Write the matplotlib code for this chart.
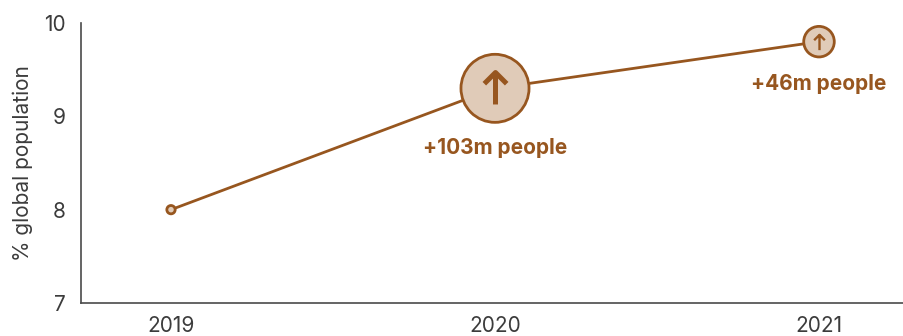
import matplotlib
matplotlib.use('Agg')
import matplotlib.pyplot as plt
from matplotlib.path import Path

plt.rcParams['font.family'] = ['Inter', 'DejaVu Sans']

years = [2019, 2020, 2021]
share = [8.0, 9.3, 9.8]
# marker diameters in points
bubble_sizes = [6, 49, 22]
change_labels = ['', '+103m people', '+46m people']
yticks = [7, 8, 9, 10]

BROWN = '#97561f'
FILL = '#e0cbb8'
TEXT = '#3c3c3c'

# up arrow used as an open marker: shaft, then the two sides of the head
arrow = Path([(0, -0.5), (0, 0.5), (-0.35, 0.15), (0, 0.5), (0.35, 0.15)],
             [Path.MOVETO, Path.LINETO, Path.MOVETO, Path.LINETO, Path.LINETO])

fig = plt.figure(figsize=(9.04, 3.36), dpi=100)
ax = fig.add_axes([81 / 904, 33 / 336, 823 / 904, 280 / 336])

ax.plot(years, share, color=BROWN, lw=2.0, zorder=2)
ax.scatter(years, share, s=[d ** 2 for d in bubble_sizes], facecolor=FILL,
           edgecolor=BROWN, linewidth=2.0, zorder=3)

ax.plot(years[1], share[1], marker=arrow, ms=23, mfc='none', mec=BROWN, mew=3.6, zorder=4)
ax.plot(years[2], share[2], marker=arrow, ms=11, mfc='none', mec=BROWN, mew=1.7, zorder=4)

ax.annotate(change_labels[1], xy=(years[1], share[1]), xytext=(0, -43),
            textcoords='offset points', ha='center', va='center',
            color=BROWN, fontsize=15, fontweight='bold')
ax.annotate(change_labels[2], xy=(years[2], share[2]), xytext=(0, -30.5),
            textcoords='offset points', ha='center', va='center',
            color=BROWN, fontsize=15, fontweight='bold')

ax.set_xlim(2019 - 90 / 324, 2021 + 85 / 324)
ax.set_ylim(7, 10)
ax.set_xticks(years)
ax.set_yticks(yticks)
ax.tick_params(length=0, labelsize=15, labelcolor=TEXT)
ax.tick_params(axis='x', pad=9.5)
ax.tick_params(axis='y', pad=11)
ax.set_ylabel('% global population', fontsize=15, color=TEXT, labelpad=8)

for side in ['top', 'right']:
    ax.spines[side].set_visible(False)
for side in ['left', 'bottom']:
    ax.spines[side].set_color('#4a4a4a')
    ax.spines[side].set_linewidth(1.2)

fig.savefig('out.png', dpi=100)
